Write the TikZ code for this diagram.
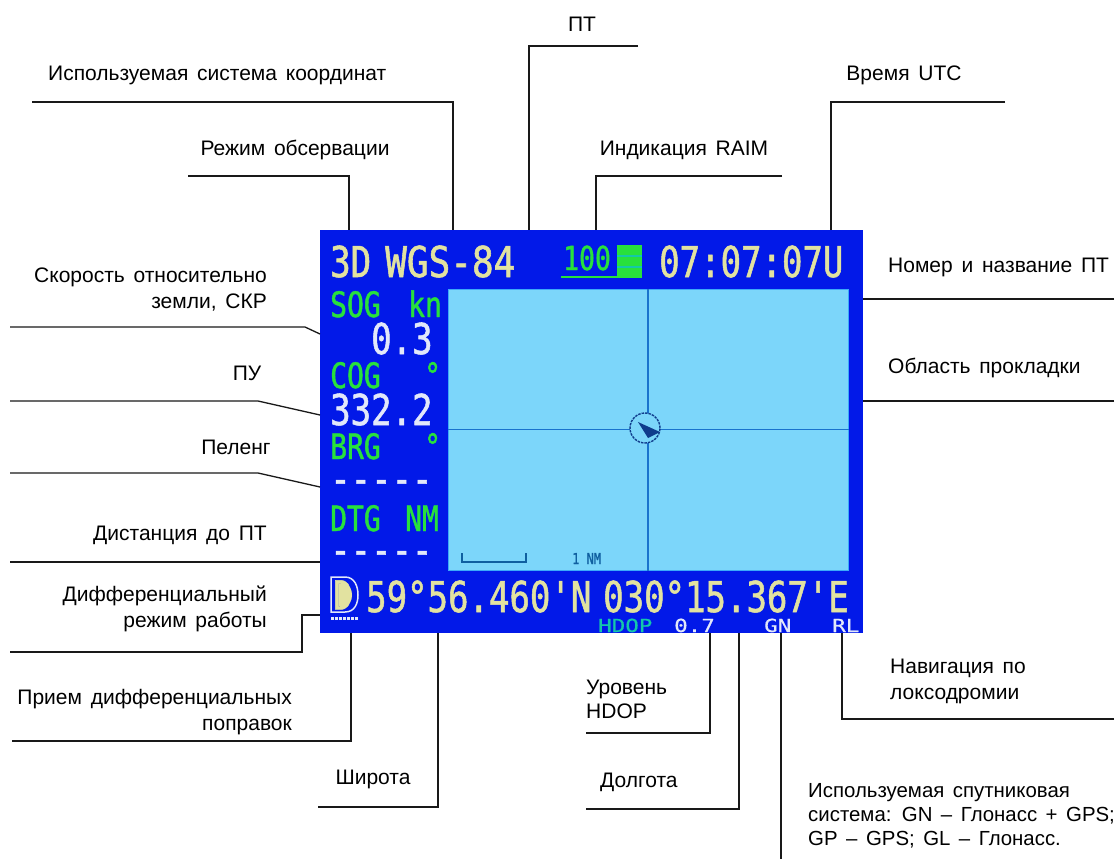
\documentclass[tikz,border=0pt]{standalone}
\usepackage{fontspec}
\setmainfont[WordSpace=1.5]{Liberation Sans}
\newfontfamily\lcdfont[FakeStretch=0.8,FakeBold=1.2]{DejaVu Sans Mono}
\newfontfamily\lcdwide[FakeStretch=1.25,FakeBold=0.6]{DejaVu Sans Mono}
\usetikzlibrary{positioning}
\definecolor{panel}{RGB}{2,25,232}
\definecolor{chart}{RGB}{124,214,250}
\definecolor{chartedge}{RGB}{60,170,250}
\definecolor{cross}{RGB}{25,115,205}
\definecolor{cream}{RGB}{226,226,160}
\definecolor{lime}{RGB}{40,225,60}
\definecolor{pale}{RGB}{226,232,250}
\definecolor{teal}{RGB}{20,200,170}
\definecolor{dusk}{RGB}{15,95,160}
\definecolor{navy}{RGB}{15,60,140}
\definecolor{ink}{RGB}{25,25,25}
\tikzset{
  lead/.style={draw=ink,line width=1.3pt},
  tag/.style={font=\fontsize{21}{26}\selectfont,text=black,inner sep=0pt,yshift=-2pt},
  lcd/.style={font=\fontsize{42.5}{42.5}\lcdfont,text=#1,inner sep=0pt,anchor=base west,text height=31pt,text depth=0pt},
  lcd/.default=cream,
  mid/.style={font=\fontsize{35}{35}\lcdfont,text=#1,inner sep=0pt,anchor=base west,text height=26pt,text depth=0pt},
  mid/.default=lime,
  tiny/.style={font=\fontsize{18}{18}\lcdwide,text=#1,inner sep=0pt,anchor=base west,text height=13pt,text depth=0pt},
  tiny/.default=pale,
}
\begin{document}
\begin{tikzpicture}[x=1pt,y=-1pt]
  \useasboundingbox (0,0) rectangle (1119,859);
  % screen
  \node[fill=panel,minimum width=543pt,minimum height=403pt,inner sep=0pt] (screen) at (591.5,431.5) {};
  \node[fill=chart,draw=chartedge,line width=1pt,minimum width=400pt,minimum height=281pt,inner sep=0pt] (plot) at (648,429.5) {};
  \draw[cross,line width=1.2pt] (plot.north) -- (plot.south) (plot.west) -- (plot.east);
  \node[circle,fill=chart,draw=navy,dash pattern=on 2.5pt off 1pt,line width=1.4pt,minimum size=30pt,inner sep=0pt] (ship) at (645,428) {};
  \fill[navy] (638,422) -- (660,432) -- (648,438) -- cycle;
  \coordinate (barleft) at (462,553);
  \coordinate (barright) at (526,553);
  \draw[dusk,line width=1.6pt] (barleft) -- ++(0,9) -| (barright);
  \node[font=\fontsize{15}{15}\lcdfont,text=dusk,inner sep=0pt,anchor=base west] (nmscale) at (572,564) {1 NM};
  % readouts
  \node[lcd] (fixmode) at (330,277) {3D};
  \node[lcd,transform shape,xscale=1.06] (datum) at (385,277) {WGS-84};
  \node[font=\fontsize{33}{33}\lcdfont,text=lime,inner sep=0pt,anchor=base west] (raim) at (563,270) {100};
  \coordinate (raimul) at (561,277);
  \coordinate (raimur) at (642,277);
  \draw[lime,line width=2.5pt] (raimul) -- (raimur);
  \node[fill=lime,minimum width=25pt,minimum height=33pt,inner sep=0pt] (raimbar) at (629.5,261.5) {};
  \draw[teal,line width=1.2pt] (raimbar.west |- 0,256) -- (raimbar.east |- 0,256) (raimbar.west |- 0,267) -- (raimbar.east |- 0,267);
  \node[lcd] (utc) at (659,277) {07:07:07U};
  \node[mid] (sog) at (330,317) {SOG};
  \node[mid] (sogunit) at (408,317) {kn};
  \node[lcd=pale] (sogval) at (371,354) {0.3};
  \node[mid] (cog) at (330,388) {COG};
  \node[mid] (cogdeg) at (424,388) {°};
  \node[lcd=pale] (cogval) at (330,425) {332.2};
  \node[mid] (brg) at (330,459) {BRG};
  \node[mid] (brgdeg) at (424,459) {°};
  \node[lcd=pale] (brgval) at (330,493.5) {-----};
  \node[mid] (dtg) at (330,531) {DTG};
  \node[mid] (dtgunit) at (405,531) {NM};
  \node[lcd=pale] (dtgval) at (330,564.5) {-----};
  \draw[pale,line width=1.5pt] (331,577) -- (345,577) .. controls (355,577) and (358,587) .. (358,595) .. controls (358,603) and (355,612) .. (345,612) -- (331,612) -- cycle;
  \fill[cream] (339,584) -- (344,584) .. controls (350,584) and (352,590) .. (352,595) .. controls (352,600) and (350,606) .. (344,606) -- (339,606) -- cycle;
  \node[font=\fontsize{40}{40}\lcdfont,text=cream,inner sep=0pt,anchor=base west,text height=29pt,text depth=0pt] (dgps) at (333,609.5) {D};
  \draw[pale,line width=3pt,dash pattern=on 3pt off 1pt] (331,618.5) -- (358,618.5);
  \node[lcd] (lat) at (366,612) {59°56.460'N};
  \node[lcd] (lon) at (603,612) {030°15.367'E};
  \node[tiny=teal] (hdop) at (598,632) {HDOP};
  \node[tiny] (hdopval) at (674,632) {0.7};
  \node[tiny] (gnss) at (764,632) {GN};
  \node[tiny] (rhumb) at (832,632) {RL};
  % top labels
  \node[tag] (ptlab) at (582,22) {ПТ};
  \node[tag,anchor=west] (datumlab) at (48,73) {Используемая система координат};
  \node[tag] (modelab) at (295,148) {Режим обсервации};
  \node[tag] (raimlab) at (684,148) {Индикация RAIM};
  \node[tag] (utclab) at (904,73) {Время UTC};
  \node[tag,anchor=west] (wptlab) at (888,265) {Номер и название ПТ};
  \node[tag,anchor=west] (arealab) at (888,366) {Область прокладки};
  % left labels
  \node[tag,anchor=east,align=right] (soglab) at (267,288) {Скорость относительно\\земли, СКР};
  \node[tag] (coglab) at (247,371) {ПУ};
  \node[tag] (brglab) at (236,445) {Пеленг};
  \node[tag,anchor=east] (dtglab) at (267,533) {Дистанция до ПТ};
  \node[tag,anchor=east,align=right] (difflab) at (267,607) {Дифференциальный\\режим работы};
  \node[tag,anchor=east,align=right] (rxlab) at (292,710) {Прием дифференциальных\\поправок};
  % bottom labels
  \node[tag] (latlab) at (373,777) {Широта};
  \node[tag,font=\fontsize{21}{24}\selectfont,anchor=west,align=left] (hdoplab) at (586,697) {Уровень\\HDOP};
  \node[tag,anchor=west] (lonlab) at (600,780) {Долгота};
  \node[tag,font=\fontsize{20.4}{24}\selectfont,anchor=west,align=left] (gnsslab) at (808,814) {Используемая спутниковая\\система: GN – Глонасс + GPS;\\GP – GPS; GL – Глонасс.};
  \node[tag,anchor=west,align=left] (rhumblab) at (890,679) {Навигация по\\локсодромии};
  % leader ends
  \foreach \n/\x/\y in {pta/638/46,ptb/529/230,datuma/32/102,datumb/453/230,modea/188/176,modeb/349/230,
    raima/782/176,raimb/596/230,utca/1005/102,utcb/831/230,wpta/1114/299,wptb/863/299,areaa/1114/401,areab/863/401,
    soga/10/327,sogb/305/327,sogc/320/334,coga/10/401,cogb/258/401,cogc/320/415,brga/10/473,brgb/258/473,brgc/320/487,
    dtga/10/562,dtgb/320/562,diffa/10/652,diffb/320/615,rxa/12/741,rxb/351/633,lata/318/807,latb/438/633,
    hdopa/586/733,hdopb/710/633,lona/586/809,lonb/739/633,gnssa/781/859,gnssb/781/633,rhumba/1114/719,rhumbb/842/633}
    \coordinate (\n) at (\x,\y);
  \draw[lead] (pta) -| (ptb);
  \draw[lead] (datuma) -| (datumb);
  \draw[lead] (modea) -| (modeb);
  \draw[lead] (raima) -| (raimb);
  \draw[lead] (utca) -| (utcb);
  \draw[lead] (wpta) -- (wptb);
  \draw[lead] (areaa) -- (areab);
  \draw[lead] (soga) -- (sogb) -- (sogc);
  \draw[lead] (coga) -- (cogb) -- (cogc);
  \draw[lead] (brga) -- (brgb) -- (brgc);
  \draw[lead] (dtga) -- (dtgb);
  \draw[lead] (diffa) -- ++(292,0) |- (diffb);
  \draw[lead] (rxa) -| (rxb);
  \draw[lead] (lata) -| (latb);
  \draw[lead] (hdopa) -| (hdopb);
  \draw[lead] (lona) -| (lonb);
  \draw[lead] (gnssa) -- (gnssb);
  \draw[lead] (rhumba) -| (rhumbb);
\end{tikzpicture}
\end{document}
